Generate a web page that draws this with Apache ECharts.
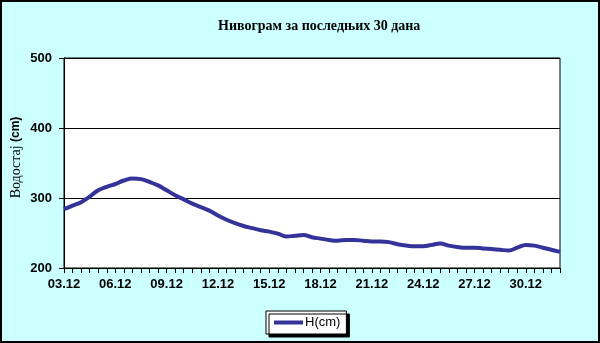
<!DOCTYPE html>
<html>
<head>
<meta charset="utf-8">
<script src="https://cdn.jsdelivr.net/npm/echarts@6/dist/echarts.min.js"></script>
<style>
html,body{margin:0;padding:0;background:#ccffff;}
#c{width:600px;height:343px;}
</style>
</head>
<body>
<div id="c"></div>
<script>
const titleText = 'Нивограм за последњих 30 дана';
const yAxisTitle = 'Водостај';
const yAxisUnit = '(cm)';
const seriesName = 'H(cm)';
const days = ['03.12','04.12','05.12','06.12','07.12','08.12','09.12','10.12','11.12','12.12',
  '13.12','14.12','15.12','16.12','17.12','18.12','19.12','20.12','21.12','22.12',
  '23.12','24.12','25.12','26.12','27.12','28.12','29.12','30.12','31.12','01.01'];
const hours = ['00h','12h'];
const levels = [284,289,294,302,311,316,320,325,328,327,
  323,318,311,304,298,292,287,282,275,269,
  264,260,257,254,252,249,245,246,247,244,
  242,240,239,240,240,239,238,238,237,234,
  232,231,231,233,235,232,230,229,229,228,
  227,226,225,229,233,232,229,226,223];
const yTicks = [200,300,400,500];

const categories = [];
for (const d of days) for (const h of hours) categories.push(d + ' ' + h);
categories.length = levels.length;

const chart = echarts.init(document.getElementById('c'), null, {renderer:'canvas'});
chart.setOption({
  backgroundColor: '#ccffff',
  animation: false,
  title: {
    text: titleText, left: 213, top: 14,
    textStyle: {fontFamily: 'Liberation Serif', fontWeight: 'bold', fontSize: 14, color: '#000'}
  },
  grid: {left: 64, right: 40, top: 58, bottom: 75, outerBoundsMode: 'none', containLabel: false,
    show: true, backgroundColor: '#ffffff', borderColor: '#000', borderWidth: 1},
  legend: {
    data: [seriesName], left: 266, top: 311,
    backgroundColor: '#fff', borderColor: '#000', borderWidth: 1,
    shadowColor: '#000', shadowBlur: 0, shadowOffsetX: 3, shadowOffsetY: 3,
    padding: [5, 6, 5, 8], itemWidth: 29, itemHeight: 4, icon: 'rect', itemGap: 2,
    textStyle: {fontFamily: 'Liberation Sans', fontSize: 13, color: '#000', padding: [0,0,0,-3]}
  },
  xAxis: {
    type: 'category', data: categories, boundaryGap: false,
    axisLine: {lineStyle: {color: '#000', width: 1}},
    axisTick: {show: true, interval: 0, length: 5, lineStyle: {color: '#000'}},
    axisLabel: {interval: 5, margin: 10, color: '#000', fontFamily: 'Liberation Sans', fontWeight: 'bold', fontSize: 13,
      formatter: v => v.slice(0,5)},
    splitLine: {show: false}
  },
  yAxis: {
    type: 'value', min: yTicks[0], max: yTicks[yTicks.length-1], interval: 100,
    name: '{a|' + yAxisTitle + '} {b|' + yAxisUnit + '}', nameLocation: 'middle', nameGap: 41, nameRotate: 90,
    nameMoveOverlap: false,
    nameTextStyle: {padding: [0, 0, 0, 11], rich: {
      a: {fontFamily: 'Liberation Serif', fontSize: 14, color: '#000'},
      b: {fontFamily: 'Liberation Sans', fontWeight: 'bold', fontSize: 12, color: '#000'}
    }},
    axisLine: {show: true, lineStyle: {color: '#000'}},
    axisTick: {show: true, length: 5, lineStyle: {color: '#000'}},
    axisLabel: {margin: 12, color: '#000', fontFamily: 'Liberation Sans', fontWeight: 'bold', fontSize: 13},
    splitLine: {show: true, lineStyle: {color: '#000', width: 1}}
  },
  series: [{
    name: seriesName, type: 'line', data: levels, smooth: 0.4, showSymbol: false,
    lineStyle: {color: '#333399', width: 4}, itemStyle: {color: '#333399'}
  }],
  graphic: [{type: 'rect', shape: {x: 1, y: 1, width: 598, height: 341}, style: {fill: null, stroke: '#000', lineWidth: 2}, z: 100}]
});
</script>
</body>
</html>
